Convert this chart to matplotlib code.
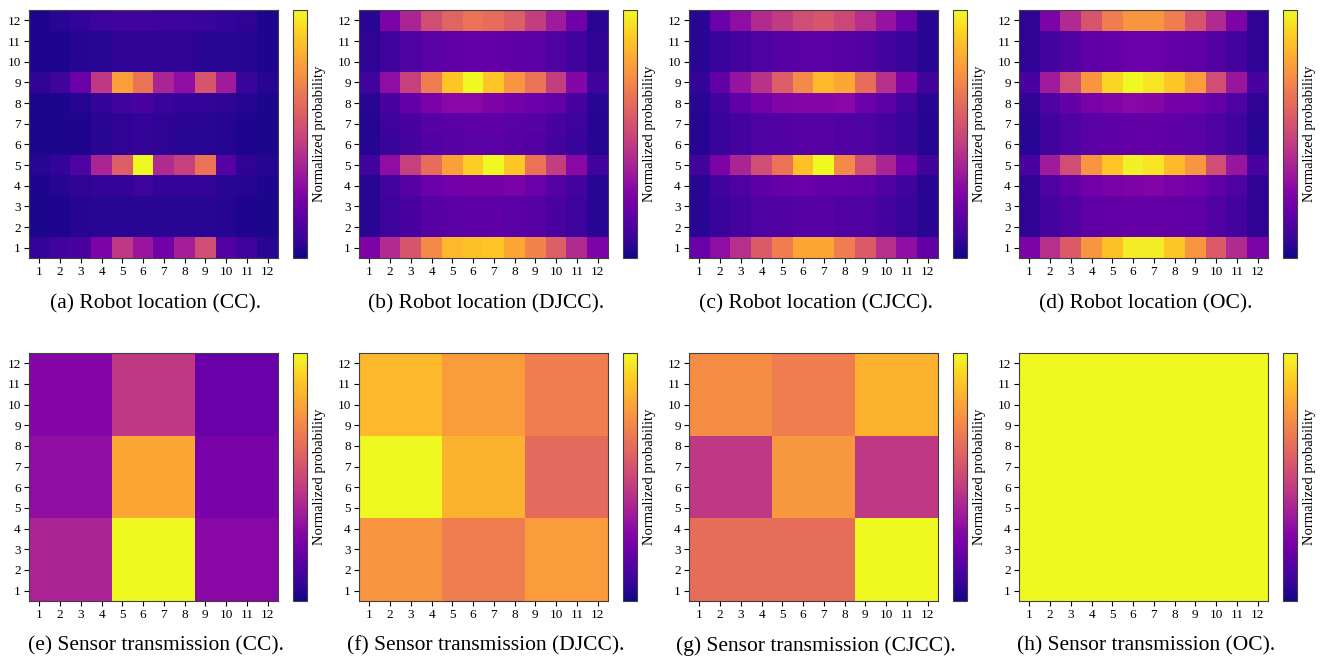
import numpy as np
import matplotlib
matplotlib.use("Agg")
import matplotlib.pyplot as plt

# --------------------------------------------------------------
# Data (rows listed top -> bottom, i.e. y = 12 ... 1)
# --------------------------------------------------------------
loc_cc = [
    [0.03, 0.05, 0.07, 0.09, 0.10, 0.10, 0.09, 0.09, 0.08, 0.07, 0.06, 0.03],
    [0.03, 0.03, 0.04, 0.05, 0.06, 0.06, 0.06, 0.06, 0.05, 0.05, 0.04, 0.03],
    [0.03, 0.03, 0.04, 0.05, 0.06, 0.06, 0.06, 0.06, 0.05, 0.05, 0.04, 0.03],
    [0.06, 0.10, 0.20, 0.45, 0.78, 0.65, 0.38, 0.30, 0.55, 0.35, 0.08, 0.04],
    [0.02, 0.02, 0.04, 0.07, 0.10, 0.12, 0.08, 0.07, 0.07, 0.06, 0.04, 0.02],
    [0.02, 0.02, 0.03, 0.05, 0.06, 0.07, 0.06, 0.05, 0.05, 0.04, 0.03, 0.02],
    [0.02, 0.02, 0.03, 0.05, 0.06, 0.07, 0.06, 0.05, 0.05, 0.04, 0.03, 0.02],
    [0.05, 0.07, 0.13, 0.38, 0.58, 1.00, 0.40, 0.48, 0.65, 0.15, 0.06, 0.04],
    [0.03, 0.04, 0.06, 0.07, 0.07, 0.09, 0.07, 0.07, 0.07, 0.05, 0.04, 0.03],
    [0.02, 0.03, 0.04, 0.05, 0.05, 0.05, 0.05, 0.05, 0.05, 0.04, 0.03, 0.02],
    [0.02, 0.03, 0.04, 0.05, 0.05, 0.05, 0.05, 0.05, 0.05, 0.04, 0.03, 0.02],
    [0.07, 0.10, 0.12, 0.25, 0.45, 0.33, 0.22, 0.36, 0.52, 0.14, 0.09, 0.05],
]
loc_djcc = [
    [0.05, 0.25, 0.38, 0.52, 0.60, 0.65, 0.63, 0.58, 0.47, 0.35, 0.22, 0.05],
    [0.06, 0.10, 0.13, 0.16, 0.17, 0.18, 0.18, 0.17, 0.16, 0.13, 0.10, 0.06],
    [0.06, 0.10, 0.13, 0.16, 0.17, 0.18, 0.18, 0.17, 0.16, 0.13, 0.10, 0.06],
    [0.10, 0.30, 0.48, 0.68, 0.88, 1.00, 0.88, 0.75, 0.65, 0.47, 0.27, 0.10],
    [0.05, 0.12, 0.18, 0.24, 0.28, 0.28, 0.25, 0.23, 0.21, 0.18, 0.12, 0.05],
    [0.04, 0.09, 0.12, 0.15, 0.16, 0.17, 0.17, 0.16, 0.15, 0.12, 0.09, 0.04],
    [0.04, 0.08, 0.11, 0.14, 0.15, 0.16, 0.16, 0.15, 0.14, 0.11, 0.08, 0.04],
    [0.10, 0.30, 0.48, 0.63, 0.78, 0.90, 1.00, 0.88, 0.65, 0.47, 0.28, 0.10],
    [0.05, 0.11, 0.15, 0.20, 0.22, 0.23, 0.23, 0.24, 0.20, 0.15, 0.11, 0.05],
    [0.05, 0.09, 0.12, 0.15, 0.16, 0.17, 0.17, 0.16, 0.15, 0.12, 0.09, 0.05],
    [0.05, 0.09, 0.12, 0.15, 0.16, 0.17, 0.17, 0.16, 0.15, 0.12, 0.09, 0.05],
    [0.25, 0.40, 0.55, 0.72, 0.85, 0.87, 0.88, 0.80, 0.70, 0.58, 0.40, 0.25],
]
loc_cjcc = [
    [0.05, 0.20, 0.30, 0.40, 0.46, 0.52, 0.55, 0.50, 0.42, 0.32, 0.20, 0.05],
    [0.05, 0.08, 0.11, 0.13, 0.15, 0.16, 0.16, 0.15, 0.14, 0.11, 0.08, 0.05],
    [0.05, 0.08, 0.11, 0.13, 0.15, 0.16, 0.16, 0.15, 0.14, 0.11, 0.08, 0.05],
    [0.07, 0.18, 0.32, 0.43, 0.58, 0.72, 0.85, 0.80, 0.63, 0.42, 0.25, 0.10],
    [0.05, 0.10, 0.17, 0.22, 0.26, 0.27, 0.27, 0.28, 0.20, 0.16, 0.11, 0.05],
    [0.04, 0.08, 0.11, 0.13, 0.14, 0.15, 0.15, 0.14, 0.13, 0.11, 0.08, 0.04],
    [0.04, 0.08, 0.11, 0.13, 0.14, 0.15, 0.15, 0.14, 0.13, 0.11, 0.08, 0.04],
    [0.10, 0.25, 0.38, 0.52, 0.65, 0.87, 1.00, 0.72, 0.52, 0.38, 0.23, 0.10],
    [0.05, 0.10, 0.13, 0.17, 0.19, 0.20, 0.19, 0.18, 0.17, 0.14, 0.10, 0.05],
    [0.05, 0.08, 0.11, 0.13, 0.14, 0.15, 0.15, 0.14, 0.13, 0.11, 0.08, 0.05],
    [0.05, 0.08, 0.11, 0.13, 0.14, 0.15, 0.15, 0.14, 0.13, 0.11, 0.08, 0.05],
    [0.20, 0.30, 0.42, 0.57, 0.68, 0.80, 0.80, 0.68, 0.57, 0.42, 0.30, 0.18],
]
loc_oc = [
    [0.06, 0.25, 0.40, 0.55, 0.68, 0.75, 0.75, 0.68, 0.55, 0.40, 0.25, 0.06],
    [0.06, 0.11, 0.14, 0.17, 0.19, 0.20, 0.20, 0.19, 0.17, 0.14, 0.11, 0.06],
    [0.06, 0.11, 0.14, 0.17, 0.19, 0.20, 0.20, 0.19, 0.17, 0.14, 0.11, 0.06],
    [0.12, 0.35, 0.52, 0.75, 0.92, 1.00, 0.95, 0.88, 0.77, 0.52, 0.33, 0.12],
    [0.06, 0.13, 0.19, 0.24, 0.26, 0.28, 0.27, 0.23, 0.22, 0.19, 0.13, 0.06],
    [0.05, 0.10, 0.13, 0.16, 0.17, 0.18, 0.18, 0.17, 0.16, 0.13, 0.10, 0.05],
    [0.05, 0.10, 0.13, 0.16, 0.17, 0.18, 0.18, 0.17, 0.16, 0.13, 0.10, 0.05],
    [0.12, 0.35, 0.52, 0.75, 0.88, 0.98, 0.95, 0.85, 0.75, 0.52, 0.33, 0.12],
    [0.06, 0.13, 0.18, 0.22, 0.24, 0.25, 0.26, 0.24, 0.22, 0.18, 0.13, 0.06],
    [0.06, 0.11, 0.14, 0.17, 0.18, 0.19, 0.19, 0.18, 0.17, 0.14, 0.11, 0.06],
    [0.06, 0.11, 0.14, 0.17, 0.18, 0.19, 0.19, 0.18, 0.17, 0.14, 0.11, 0.06],
    [0.25, 0.42, 0.57, 0.75, 0.87, 0.97, 0.97, 0.88, 0.75, 0.57, 0.40, 0.25],
]

# sensor transmission: 3x3 blocks (top -> bottom), each block covers 4x4 cells
sens_cc = [[0.27, 0.45, 0.20],
           [0.30, 0.80, 0.24],
           [0.38, 1.00, 0.28]]
sens_djcc = [[0.85, 0.77, 0.68],
             [1.00, 0.83, 0.62],
             [0.75, 0.68, 0.77]]
sens_cjcc = [[0.73, 0.68, 0.83],
             [0.45, 0.76, 0.45],
             [0.63, 0.63, 1.00]]
sens_oc = [[1.0, 1.0, 1.0],
           [1.0, 1.0, 1.0],
           [1.0, 1.0, 1.0]]

panels = [loc_cc, loc_djcc, loc_cjcc, loc_oc, sens_cc, sens_djcc, sens_cjcc, sens_oc]
captions = [
    "(a) Robot location (CC).", "(b) Robot location (DJCC).",
    "(c) Robot location (CJCC).", "(d) Robot location (OC).",
    "(e) Sensor transmission (CC).", "(f) Sensor transmission (DJCC).",
    "(g) Sensor transmission (CJCC).", "(h) Sensor transmission (OC).",
]
ticks = list(range(1, 13))

# --------------------------------------------------------------
# Figure
# --------------------------------------------------------------
plt.rcParams["font.family"] = ["Liberation Serif", "DejaVu Serif"]
W, H = 1324, 665
fig = plt.figure(figsize=(W / 100, H / 100), dpi=100)

lefts = [29, 359, 689, 1019]
tops = [10, 353]
aw, ah = 249, 248
cap_y = [304, 646]
edge = "0.25"

for i, data in enumerate(panels):
    r, c = divmod(i, 4)
    x0, y0 = lefts[c], tops[r]
    ax = fig.add_axes([x0 / W, (H - y0 - ah) / H, aw / W, ah / H])
    im = ax.imshow(np.array(data), cmap="plasma", vmin=0, vmax=1,
                   extent=(0.5, 12.5, 0.5, 12.5), aspect="auto",
                   interpolation="nearest")
    ax.set_xticks(ticks)
    ax.set_yticks(ticks)
    ax.set_xlim(0.5, 12.5)
    ax.set_ylim(0.5, 12.5)
    ax.tick_params(labelsize=9.5, length=3.5, width=0.8, pad=2.5)
    for s in ax.spines.values():
        s.set_edgecolor(edge)

    cax = fig.add_axes([(x0 + 264) / W, (H - y0 - ah) / H, 14 / W, ah / H])
    cb = fig.colorbar(im, cax=cax)
    cb.set_ticks([])
    cb.outline.set_edgecolor(edge)
    cb.set_label("Normalized probability", fontsize=10.5, labelpad=4)

    fig.text((x0 + 127) / W, 1 - cap_y[r] / H, captions[i],
             ha="center", va="center", fontsize=15.5)

fig.savefig("out.png", dpi=100)
